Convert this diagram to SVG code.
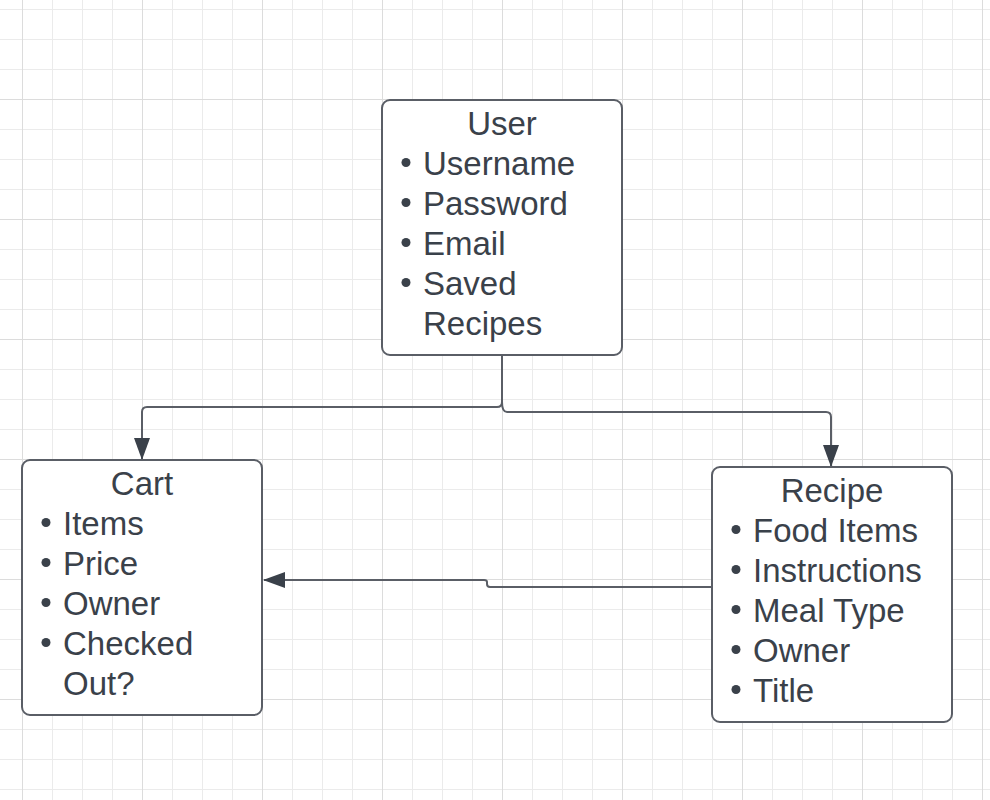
<svg xmlns="http://www.w3.org/2000/svg" width="990" height="800" viewBox="0 0 990 800">
<defs>
<pattern id="minor" x="22" y="9" width="30" height="30" patternUnits="userSpaceOnUse">
<path d="M0 0H30M0 0V30" fill="none" stroke="#ebebeb" stroke-width="2"/>
</pattern>
<pattern id="major" x="22" y="99" width="120" height="120" patternUnits="userSpaceOnUse">
<path d="M0 0H120M0 0V120" fill="none" stroke="#dcdcdc" stroke-width="2"/>
</pattern>
<marker id="arr" viewBox="0 0 22 16" refX="21" refY="8" markerWidth="22" markerHeight="16" markerUnits="userSpaceOnUse" orient="auto">
<path d="M0 0L22 8L0 16Z" fill="#3a414a"/>
</marker>
</defs>
<style>
.box{fill:#fff;stroke:#5a5e66;stroke-width:2}
.t{font-family:"Liberation Sans",Arial,sans-serif;font-size:33px;fill:#3a414a}
.title{text-anchor:middle}
.b{fill:#3a414a}
.c{fill:none;stroke:#5a5e66;stroke-width:2}
</style>
<rect width="990" height="800" fill="#fff"/>
<rect width="990" height="800" fill="url(#minor)"/>
<rect width="990" height="800" fill="url(#major)"/>

<g id="connectors">
<path class="c" d="M502 355V402Q502 407 497 407H147Q142 407 142 412V459" marker-end="url(#arr)"/>
<path class="c" d="M502 402Q502 412 507 412H826Q831 412 831 417V466" marker-end="url(#arr)"/>
<path class="c" d="M712 587H490Q487 587 487 584V582Q487 580 484 580H264" marker-end="url(#arr)"/>
</g>

<g id="user">
<rect class="box" x="382" y="100" width="240" height="255" rx="8"/>
<text class="t title" x="502" y="134.5">User</text>
<circle class="b" cx="406" cy="162.5" r="4.5"/><text class="t" x="423" y="174.5">Username</text>
<circle class="b" cx="406" cy="202.5" r="4.5"/><text class="t" x="423" y="214.5">Password</text>
<circle class="b" cx="406" cy="242.5" r="4.5"/><text class="t" x="423" y="254.5">Email</text>
<circle class="b" cx="406" cy="282.5" r="4.5"/><text class="t" x="423" y="294.5">Saved</text>
<text class="t" x="423" y="334.5">Recipes</text>
</g>

<g id="cart">
<rect class="box" x="22" y="460" width="240" height="255" rx="8"/>
<text class="t title" x="142" y="494.5">Cart</text>
<circle class="b" cx="46" cy="522.5" r="4.5"/><text class="t" x="63" y="534.5">Items</text>
<circle class="b" cx="46" cy="562.5" r="4.5"/><text class="t" x="63" y="574.5">Price</text>
<circle class="b" cx="46" cy="602.5" r="4.5"/><text class="t" x="63" y="614.5">Owner</text>
<circle class="b" cx="46" cy="642.5" r="4.5"/><text class="t" x="63" y="654.5">Checked</text>
<text class="t" x="63" y="694.5">Out?</text>
</g>

<g id="recipe">
<rect class="box" x="712" y="467" width="240" height="255" rx="8"/>
<text class="t title" x="832" y="501.5">Recipe</text>
<circle class="b" cx="736" cy="529.5" r="4.5"/><text class="t" x="753" y="541.5">Food Items</text>
<circle class="b" cx="736" cy="569.5" r="4.5"/><text class="t" x="753" y="581.5">Instructions</text>
<circle class="b" cx="736" cy="609.5" r="4.5"/><text class="t" x="753" y="621.5">Meal Type</text>
<circle class="b" cx="736" cy="649.5" r="4.5"/><text class="t" x="753" y="661.5">Owner</text>
<circle class="b" cx="736" cy="689.5" r="4.5"/><text class="t" x="753" y="701.5">Title</text>
</g>
</svg>
